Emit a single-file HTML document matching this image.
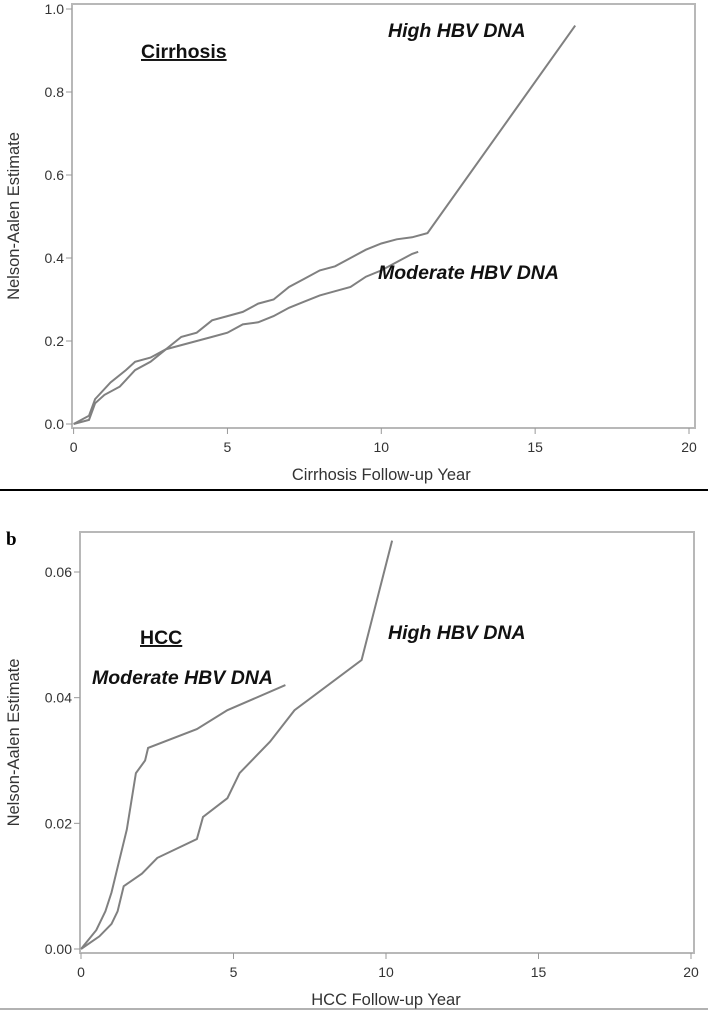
<!DOCTYPE html>
<html><head><meta charset="utf-8"><style>
body{margin:0;background:#fff;width:708px;height:1011px;overflow:hidden}
svg{display:block;font-family:"Liberation Sans",sans-serif}
.tk{font-size:14px;fill:#333}
.ax{font-size:16.5px;fill:#333}
.lab{font-size:19.5px;font-weight:bold;font-style:italic;fill:#111}
</style></head><body>
<svg id="s" width="708" height="1011">
<line x1="0" y1="490" x2="708" y2="490" stroke="#000" stroke-width="2"/>
<line x1="0" y1="1009" x2="708" y2="1009" stroke="#999" stroke-width="1.5"/>
<text x="6" y="545" font-family="Liberation Serif" font-weight="bold" font-size="19">b</text>
</svg>
<script>
const NS="http://www.w3.org/2000/svg";
const svg=document.getElementById('s');
// Panel a data
const aHighX=[0,0.5,0.7,1.2,1.7,2,2.5,3,3.5,4,4.5,5,5.5,6,6.5,7,7.5,8,8.5,9,9.5,10,10.5,11,11.5,16.3];
const aHighY=[0,0.02,0.06,0.1,0.13,0.15,0.16,0.18,0.21,0.22,0.25,0.26,0.27,0.29,0.30,0.33,0.35,0.37,0.38,0.40,0.42,0.435,0.445,0.45,0.46,0.96];
const aModX=[0,0.5,0.7,1,1.5,2,2.5,3,3.5,4,4.5,5,5.5,6,6.5,7,7.5,8,8.5,9,9.5,10,10.5,11,11.2];
const aModY=[0,0.01,0.05,0.07,0.09,0.13,0.15,0.18,0.19,0.20,0.21,0.22,0.24,0.245,0.26,0.28,0.295,0.31,0.32,0.33,0.355,0.37,0.39,0.41,0.415];
const aYTicks=["0.0","0.2","0.4","0.6","0.8","1.0"];
const aXTicks=["0","5","10","15","20"];
// Panel b data
const bHighX=[0,0.6,1,1.2,1.4,2,2.5,3.8,4,4.8,5.2,6.2,7,9.2,10.2];
const bHighY=[0,0.002,0.004,0.006,0.010,0.012,0.0145,0.0175,0.021,0.024,0.028,0.033,0.038,0.046,0.065];
const bModX=[0,0.5,0.8,1,1.2,1.5,1.8,2.1,2.2,3.8,4.8,6.7];
const bModY=[0,0.003,0.006,0.009,0.013,0.019,0.028,0.030,0.032,0.035,0.038,0.042];
const bYTicks=["0.00","0.02","0.04","0.06"];
const bXTicks=["0","5","10","15","20"];

function el(t,a,txt){const e=document.createElementNS(NS,t);for(const k in a)e.setAttribute(k,a[k]);if(txt!==undefined)e.textContent=txt;svg.appendChild(e);return e;}

function panel(p,cfg){
  const sx=v=>cfg.x0+(cfg.x20-cfg.x0)*v/20;
  const sy=v=>cfg.y0-(cfg.y0-cfg.yTop)*v/cfg.yMax;
  let r=el('rect',{x:cfg.bl,y:cfg.bt,width:cfg.br-cfg.bl,height:cfg.bb-cfg.bt,fill:'none',stroke:'#b8b8b8','stroke-width':2});
  
  
  cfg.yt.forEach((t,i)=>{const v=cfg.yMax*i/(cfg.yt.length-1);const y=sy(v);
    let l=el('line',{x1:cfg.bl-6,x2:cfg.bl,y1:y,y2:y,stroke:'#999'});
    
    
    let tx=el('text',{x:cfg.bl-8,y:y+5,'text-anchor':'end',class:'tk'},t);
    
    });
  cfg.xt.forEach(t=>{const x=sx(+t);
    let l=el('line',{x1:x,x2:x,y1:cfg.bb,y2:cfg.bb+6,stroke:'#999'});
    
    
    let tx=el('text',{x:x,y:cfg.bb+24,'text-anchor':'middle',class:'tk'},t);
    
    });
  cfg.series.forEach(s=>{const pts=s.x.map((v,i)=>sx(v).toFixed(1)+','+sy(s.y[i]).toFixed(1)).join(' ');
    let pl=el('polyline',{points:pts,fill:'none',stroke:'#808080','stroke-width':2});
    
    });
  let xt=el('text',{x:(cfg.x0+cfg.x20)/2,y:cfg.bb+52,'text-anchor':'middle',class:'ax'},cfg.xTitle);
  
  
  const cy=(cfg.bt+cfg.bb)/2;
  let yt=el('text',{x:19,y:cy,'text-anchor':'middle',class:'ax',transform:'rotate(-90 19 '+cy+')'},'Nelson-Aalen Estimate');
  
  
}
panel('panel-a',{x0:73.6,x20:689,y0:424,yTop:9,yMax:1.0,bl:72,br:695,bt:4,bb:428,yt:aYTicks,xt:aXTicks,xTitle:'Cirrhosis Follow-up Year',
  series:[{x:aHighX,y:aHighY,name:'panel-a-high-hbv-line'},{x:aModX,y:aModY,name:'panel-a-moderate-hbv-line'}]});
panel('panel-b',{x0:81,x20:691,y0:949,yTop:572,yMax:0.06,bl:80,br:694,bt:532,bb:953,yt:bYTicks,xt:bXTicks,xTitle:'HCC Follow-up Year',
  series:[{x:bHighX,y:bHighY,name:'panel-b-high-hbv-line'},{x:bModX,y:bModY,name:'panel-b-moderate-hbv-line'}]});

function lab(x,y,t,n,u){let e=el('text',{x:x,y:y,class:'lab'},t);
  if(u){e.setAttribute('style','font-style:normal;text-decoration:underline');}
  
  }
lab(141,58,'Cirrhosis','panel-a-title',true);
lab(388,37,'High HBV DNA','panel-a-high-label');
lab(378,279,'Moderate HBV DNA','panel-a-moderate-label');
lab(140,644,'HCC','panel-b-title',true);
lab(388,639,'High HBV DNA','panel-b-high-label');
lab(92,684,'Moderate HBV DNA','panel-b-moderate-label');
</script>
</body></html>
